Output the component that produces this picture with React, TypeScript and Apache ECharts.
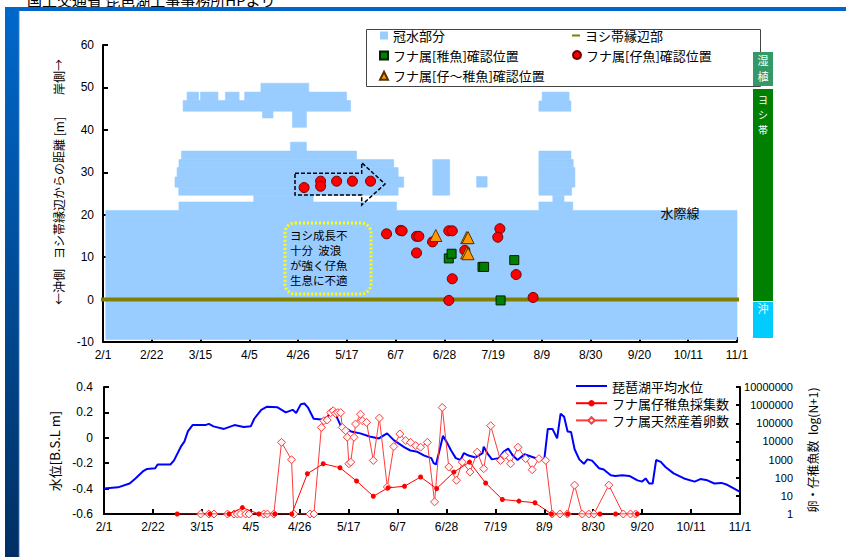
import React, { useEffect, useRef } from 'react';
import * as echarts from 'echarts';

// x values are days counted from 2/1
const dateLabels = ['2/1', '2/22', '3/15', '4/5', '4/26', '5/17', '6/7', '6/28', '7/19', '8/9', '8/30', '9/20', '10/11', '11/1'];
const countLabels = ['1', '10', '100', '1000', '10000', '100000', '1000000', '10000000'];

// flooded area blocks: [dayStart, dayEnd, distLow, distHigh]
const floodAreas = [
  [1.2, 273, -9.4, 21.0],
  [32.7, 126.4, 21.0, 23.0],
  [64.9, 90.5, 23.0, 24.6],
  [32.6, 127.1, 24.6, 26.5],
  [31.0, 129.5, 26.5, 28.9],
  [31.9, 127.1, 28.9, 31.1],
  [32.7, 125.2, 31.1, 33.0],
  [33.8, 109.2, 33.0, 35.0],
  [80.7, 87.6, 35.0, 37.1],
  [81.6, 87.6, 40.6, 44.4],
  [68.7, 73.2, 42.8, 44.4],
  [34.5, 106.6, 44.4, 46.9],
  [36.2, 41.2, 46.9, 48.9],
  [42.0, 49.5, 46.9, 48.9],
  [52.7, 58.6, 46.9, 48.9],
  [61.0, 104.9, 46.9, 48.9],
  [68.0, 88.6, 48.9, 51.0],
  [142.0, 149.3, 24.6, 33.0],
  [160.9, 165.4, 26.5, 29.0],
  [187.7, 202.3, 21.0, 23.0],
  [193.7, 198.5, 23.0, 24.6],
  [187.7, 201.8, 24.6, 26.5],
  [187.7, 203.2, 26.5, 31.1],
  [187.7, 202.5, 31.1, 33.0],
  [187.7, 201.5, 33.0, 35.0],
  [187.7, 201.5, 44.4, 46.8],
  [189.1, 200.7, 46.8, 48.9],
];

const reedEdge = [[-1.9, 0], [277.7, 0]];

const juvenileFish = [[148.9, 9.7], [150.1, 10.8], [163.4, 7.7], [164.1, 7.7], [177.1, 9.3], [171.2, -0.2]];
const larvaFish = [
  [86.6, 26.4], [93.7, 27.9], [93.7, 26.7], [100.6, 27.9], [107.4, 27.9], [115.2, 27.9],
  [122.1, 15.5], [128.1, 16.3], [128.8, 16.2], [135.0, 14.9], [136.0, 14.9], [135.0, 11.0],
  [141.9, 13.6], [148.9, 16.2], [150.4, 16.2], [155.8, 11.6], [150.4, 4.9], [148.9, -0.2],
  [170.9, 16.7], [170.0, 14.7], [177.9, 5.9], [185.2, 0.5],
];
const larvaToJuvenile = [[143.3, 15.1], [156.6, 14.6], [157.2, 14.6], [156.6, 11.0], [157.2, 10.8]];

// Lake Biwa mean water level [B.S.L m]
const waterLevel = [
  [0, -0.40], [6, -0.39], [11, -0.36], [13.5, -0.32], [17, -0.26], [18.5, -0.245], [22, -0.24], [23, -0.21],
  [28.5, -0.21], [30, -0.18], [33, -0.07], [34.5, -0.03], [36, 0.05], [38, 0.10], [43.5, 0.10], [45, 0.11],
  [47, 0.09], [51.5, 0.07], [56, 0.10], [60, 0.085], [63, 0.09], [64.5, 0.15], [67.5, 0.22], [70, 0.245],
  [74.5, 0.24], [78, 0.20], [81, 0.22], [82.5, 0.195], [84.5, 0.265], [86, 0.27], [87.5, 0.24], [90, 0.15],
  [93.5, 0.145], [96, 0.165], [97.5, 0.22], [99, 0.20], [101.5, 0.10], [106, 0.05], [110, 0.035], [114, 0.01],
  [118, -0.005], [121.5, 0.035], [124.5, -0.02], [129, -0.075], [131.5, -0.10], [134.5, -0.11], [137.5, -0.14],
  [140.5, -0.16], [141.5, -0.20], [142.5, -0.21], [144, -0.10], [145.5, 0.015], [147, -0.03], [149, -0.10],
  [151, -0.16], [153, -0.175], [154.5, -0.12], [156.5, -0.14], [159.5, -0.155], [162.5, -0.12], [163, -0.07],
  [164.5, -0.12], [166.5, -0.17], [169.5, -0.16], [171.5, -0.11], [173.5, -0.085], [175.5, -0.14], [177.5, -0.175],
  [180.5, -0.13], [184.5, -0.155], [187.5, -0.175], [189, -0.17], [190.5, 0.07], [192.5, 0.07], [194.5, -0.005],
  [196, 0.19], [197.5, 0.165], [199, 0.05], [200.5, 0.045], [202, -0.09], [204, -0.17], [206, -0.205],
  [207.5, -0.17], [209.5, -0.18], [212.5, -0.24], [214.5, -0.25], [217.5, -0.295], [219.5, -0.30], [222.5, -0.295],
  [225.5, -0.30], [229, -0.335], [231, -0.345], [232.5, -0.32], [234, -0.36], [235.5, -0.36], [237, -0.175],
  [239, -0.19], [241, -0.23], [244.5, -0.28], [249, -0.32], [253.5, -0.345], [256, -0.325], [259, -0.335],
  [262, -0.36], [265, -0.355], [267.5, -0.37], [270.5, -0.40], [273, -0.425],
];

// log10(N+1) values
const fryCatch = [
  [31.4, 0], [45.5, 0], [53.7, 0], [59.4, 0.35], [66.5, 0], [73.3, 0], [80.6, 0], [87.3, 2.22], [94.1, 2.77],
  [101.3, 2.55], [108.4, 1.82], [115.6, 0.98], [121.9, 1.44], [129, 1.53], [135.9, 2.04], [142.8, 1.40],
  [150.2, 2.31], [156.9, 2.86], [163.8, 1.71], [171, 0.80], [178.1, 0.71], [185, 0.62], [192.1, 0], [199, 0],
  [212.9, 0], [219.6, 0], [228.9, 0],
];
const eggCount = [
  [41.5, 0], [45, 0], [47.2, 0], [53, 0], [55.8, 0], [57.2, 0], [58.6, 0], [60.8, 0], [62.2, 0], [68.6, 0],
  [70.1, 0], [72.9, 0], [76.2, 3.95], [80.5, 2.99], [81.5, 0], [88.4, 0], [90.1, 0], [93.3, 4.77], [94.4, 5.14],
  [95.8, 5.18], [97.3, 5.59], [98.4, 5.69], [99.4, 5.54], [100.4, 5.59], [101.6, 5.59], [102.3, 4.77],
  [103.7, 4.59], [104.4, 4.23], [105.1, 2.77], [105.9, 2.86], [107.3, 4.23], [108, 4.96], [110.1, 5.5],
  [110.9, 5.14], [112.7, 5.05], [115.6, 2.95], [118.2, 5.29], [121.6, 1.49], [124.4, 3.72], [127, 4.41],
  [129.5, 4.05], [131.6, 3.95], [133.8, 3.77], [135.9, 3.68], [138.8, 3.95], [141.9, 0.67], [145.2, 5.87],
  [148, 2.59], [151.3, 1.86], [153.8, 2.86], [157.1, 2.31], [160.2, 3.41], [163, 2.5], [166, 4.87],
  [170.2, 2.95], [172, 3.23], [174.5, 2.77], [177.7, 3.68], [181, 3.05], [183.8, 2.44], [186.7, 3.05],
  [189.6, 2.95], [192.4, 0], [195.7, 0], [198.9, 0], [202, 1.59], [205.3, 0], [208.1, 0], [210.3, 0],
  [216.7, 1.59], [222.9, 0], [226, 0], [228.2, 0],
];

const annotLines = ['ヨシ成長不', '十分  波浪', 'が強く仔魚', '生息に不適'];
const zoneWet = ['湿', '植'];
const zoneReed = ['ヨ', 'シ', '帯'];

const FONT = '"Liberation Sans", "Noto Sans CJK JP", sans-serif';
const JFONT = '"Noto Sans CJK JP", sans-serif';
// thin horizontal line icon (tiny top/bottom strips keep the bounding box 31x8)
const LINE_ICON = 'path://M0,0L31,0L31,0.01L0,0.01Z M0,3.1L31,3.1L31,4.9L0,4.9Z M0,7.99L31,7.99L31,8L0,8Z';

export default function App() {
  const ref = useRef<HTMLDivElement>(null);
  useEffect(() => {
    document.body.style.margin = '0';
    const chart = echarts.init(ref.current!, null, { renderer: 'svg' });
    const axisLabelBase = { color: '#000', fontSize: 12, fontFamily: FONT };
    const axisLine = { show: true, onZero: false, lineStyle: { color: '#000', width: 2 } };
    const axisTick = { show: true, inside: true, length: 5, lineStyle: { color: '#000', width: 2 } };
    const dateFormatter = (v: number) => dateLabels[Math.round(v / 21)] ?? '';
    const legendText = { fontSize: 13, color: '#000', fontFamily: JFONT };

    const vtext = (text: string, x: number, y: number, size = 12) => ({
      type: 'text', x, y, rotation: Math.PI / 2, z: 20,
      style: { text, fill: '#000', fontSize: size, fontFamily: JFONT, align: 'center', verticalAlign: 'middle', textAlign: 'center', textVerticalAlign: 'middle' },
    });
    const ctext = (text: string, x: number, y: number, size: number, fill: string, align = 'center') => ({
      type: 'text', x, y, z: 21,
      style: { text, fill, fontSize: size, fontFamily: JFONT, align, verticalAlign: 'middle', textAlign: align, textVerticalAlign: 'middle' },
    });

    chart.setOption({
      animation: false,
      backgroundColor: '#fff',
      textStyle: { fontFamily: FONT },
      grid: [
        { left: 103, top: 45, width: 634, height: 297, outerBoundsMode: 'none' },
        { left: 104, top: 387, width: 636, height: 127, outerBoundsMode: 'none' },
      ],
      legend: [
        {
          orient: 'vertical', left: 379, top: 29, padding: 0, itemWidth: 8, itemHeight: 8, itemGap: 7.1,
          textStyle: legendText,
          data: [{ name: '冠水部分', icon: 'rect' }, 'フナ属[稚魚]確認位置', 'フナ属[仔～稚魚]確認位置'],
        },
        {
          orient: 'vertical', left: 572, top: 29, padding: 0, itemWidth: 8, itemHeight: 2,
          textStyle: legendText,
          data: [{ name: 'ヨシ帯縁辺部', icon: 'rect' }],
        },
        {
          orient: 'vertical', left: 572, top: 48.5, padding: 0, itemWidth: 8, itemHeight: 8,
          textStyle: legendText,
          data: ['フナ属[仔魚]確認位置'],
        },
        {
          orient: 'vertical', left: 575, top: 379.5, padding: 0, itemWidth: 31, itemHeight: 8, itemGap: 4.2,
          textStyle: legendText,
          data: [{ name: '琵琶湖平均水位', icon: LINE_ICON }, 'フナ属仔稚魚採集数', 'フナ属天然産着卵数'],
        },
      ],
      xAxis: [
        {
          type: 'value', gridIndex: 0, min: 0, max: 273, interval: 21,
          axisLine, axisTick, splitLine: { show: false },
          axisLabel: { ...axisLabelBase, margin: 7, formatter: dateFormatter },
        },
        {
          type: 'value', gridIndex: 1, min: 0, max: 273, interval: 21,
          axisLine, axisTick, splitLine: { show: false },
          axisLabel: { ...axisLabelBase, margin: 7, formatter: dateFormatter },
        },
      ],
      yAxis: [
        {
          type: 'value', gridIndex: 0, min: -10, max: 60, interval: 10,
          axisLine, axisTick, splitLine: { show: false },
          axisLabel: { ...axisLabelBase, margin: 9 },
        },
        {
          type: 'value', gridIndex: 1, min: -0.6, max: 0.4, interval: 0.2,
          axisLine, axisTick, splitLine: { show: false },
          axisLabel: { ...axisLabelBase, margin: 11, formatter: (v: number) => (Math.abs(v) < 1e-9 ? '0' : v.toFixed(1)) },
        },
        {
          type: 'value', gridIndex: 1, position: 'right', min: 0, max: 7, interval: 1,
          axisLine, axisTick: { ...axisTick, length: 4 }, splitLine: { show: false },
          axisLabel: { ...axisLabelBase, fontSize: 11, margin: 53, align: 'right', formatter: (v: number) => countLabels[Math.round(v)] ?? '' },
        },
      ],
      series: [
        {
          name: '冠水部分', type: 'custom', xAxisIndex: 0, yAxisIndex: 0, z: 1,
          itemStyle: { color: '#99ccff' },
          encode: { x: [0, 1], y: [2, 3] },
          data: floodAreas,
          renderItem: (params: any, api: any) => {
            const a = api.coord([api.value(0), api.value(3)]);
            const b = api.coord([api.value(1), api.value(2)]);
            return {
              type: 'rect',
              shape: { x: a[0], y: a[1], width: b[0] - a[0], height: b[1] - a[1] },
              style: { fill: '#99ccff', stroke: '#99ccff', lineWidth: 0.6 },
            };
          },
        },
        {
          name: 'ヨシ帯縁辺部', type: 'line', xAxisIndex: 0, yAxisIndex: 0, z: 3, clip: false,
          symbol: 'none', data: reedEdge,
          lineStyle: { color: '#808000', width: 4 }, itemStyle: { color: '#808000' },
        },
        {
          name: 'フナ属[稚魚]確認位置', type: 'scatter', xAxisIndex: 0, yAxisIndex: 0, z: 4,
          symbol: 'rect', symbolSize: 9, data: juvenileFish,
          itemStyle: { color: '#007f00', borderColor: '#002000', borderWidth: 1, opacity: 1 },
        },
        {
          name: 'フナ属[仔魚]確認位置', type: 'scatter', xAxisIndex: 0, yAxisIndex: 0, z: 5,
          symbol: 'circle', symbolSize: 10, data: larvaFish,
          itemStyle: { color: '#ff0000', borderColor: '#700000', borderWidth: 1, opacity: 1 },
        },
        {
          name: 'フナ属[仔～稚魚]確認位置', type: 'scatter', xAxisIndex: 0, yAxisIndex: 0, z: 6,
          symbol: 'triangle', symbolSize: 12, data: larvaToJuvenile,
          itemStyle: { color: '#ff9900', borderColor: '#5a3000', borderWidth: 1, opacity: 1 },
        },
        {
          name: '琵琶湖平均水位', type: 'line', xAxisIndex: 1, yAxisIndex: 1, z: 2,
          symbol: 'none', data: waterLevel,
          lineStyle: { color: '#0000ff', width: 2 }, itemStyle: { color: '#0000ff' },
        },
        {
          name: 'フナ属仔稚魚採集数', type: 'line', xAxisIndex: 1, yAxisIndex: 2, z: 4,
          symbol: 'circle', symbolSize: 5, data: fryCatch,
          lineStyle: { color: '#ff0000', width: 1 }, itemStyle: { color: '#ff0000' },
        },
        {
          name: 'フナ属天然産着卵数', type: 'line', xAxisIndex: 1, yAxisIndex: 2, z: 3,
          symbol: 'diamond', symbolSize: 8, data: eggCount,
          lineStyle: { color: '#ff3b3b', width: 1 },
          itemStyle: { color: '#fff5f5', borderColor: '#ff3b3b', borderWidth: 1 },
        },
      ],
      graphic: [
        {
          type: 'text', x: 27, y: 7, z: 0,
          style: { text: '国土交通省 琵琶湖工事事務所HPより', fill: '#000', fontSize: 15, fontFamily: JFONT, verticalAlign: 'bottom', textVerticalAlign: 'bottom' },
        },
        { type: 'rect', z: 1, shape: { x: 5, y: 7, width: 841, height: 4 }, style: { fill: '#0066cc' } },
        {
          type: 'rect', z: 1, shape: { x: 5, y: 7, width: 14, height: 550 },
          style: { fill: new echarts.graphic.LinearGradient(0, 0, 0, 1, [{ offset: 0, color: '#0068cc' }, { offset: 1, color: '#003063' }]) },
        },
        { type: 'rect', z: 1, shape: { x: 18.7, y: 11, width: 0.8, height: 546 }, style: { fill: '#5b8fd0' } },
        { type: 'rect', z: 3, shape: { x: 366.5, y: 29.5, width: 394, height: 57 }, style: { fill: '#fff', stroke: '#444', lineWidth: 1 } },
        // zone bars on the right
        { type: 'rect', z: 20, shape: { x: 753, y: 52, width: 20, height: 34 }, style: { fill: '#339966' } },
        { type: 'rect', z: 20, shape: { x: 753, y: 89, width: 20, height: 212 }, style: { fill: '#008000' } },
        { type: 'rect', z: 20, shape: { x: 753, y: 302, width: 20, height: 36 }, style: { fill: '#00ccff' } },
        ...zoneWet.map((c, i) => ctext(c, 763, 60 + i * 16, 11, '#fff')),
        ...zoneReed.map((c, i) => ctext(c, 763, 99 + i * 15, 10, '#fff')),
        ctext('沖', 763, 308, 11, '#fff'),
        // annotation box
        {
          type: 'rect', z: 8, shape: { x: 285, y: 223, width: 86, height: 71, r: 10 },
          style: { fill: 'none', stroke: '#ffff00', lineWidth: 3, lineDash: [2, 2] },
        },
        ...annotLines.map((t, i) => ctext(t, 290, 235 + i * 15, 11.5, '#000', 'left')),
        {
          type: 'polygon', z: 4,
          shape: { points: [[295, 173.3], [361.7, 173.3], [361.7, 162.7], [385, 184], [361.7, 205], [361.7, 195], [295, 195]] },
          style: { fill: 'none', stroke: '#000', lineWidth: 1.5, lineDash: [4, 2] },
        },
        ctext('水際線', 680, 212, 13, '#000'),
        vtext('岸側→', 58, 77),
        vtext('ヨシ帯縁辺からの距離 [m]', 58, 188),
        vtext('←沖側', 58, 287),
        vtext('水位[B.S.L m]', 54, 451, 13),
        vtext('卵・仔稚魚数  log(N+1)', 812, 450, 12),
      ],
    });
    return () => chart.dispose();
  }, []);
  return <div ref={ref} style={{ width: 846, height: 557 }} />;
}
